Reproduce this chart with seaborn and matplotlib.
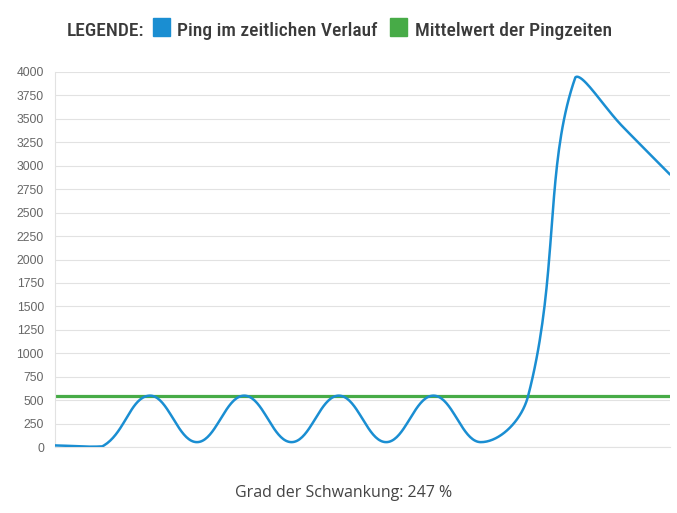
"""
Ping-Verlauf mit Mittelwert - Nachbau des Diagramms (seaborn / matplotlib)
"""

import numpy as np
import pandas as pd
import matplotlib
matplotlib.use("Agg")
import matplotlib.pyplot as plt
from matplotlib import font_manager
from matplotlib.patches import Rectangle
import seaborn as sns

# ----------------------------------------------------------------------------
# Daten
# ----------------------------------------------------------------------------
messpunkte = [0, 1, 2, 3, 4, 5, 6, 7, 8, 9, 10, 11, 12, 13]
ping_ms = [20, 10, 550, 55, 550, 55, 550, 55, 550, 55, 545, 3940, 3415, 2905]
mittelwert_ms = 548
y_ticks = [0, 250, 500, 750, 1000, 1250, 1500, 1750, 2000, 2250, 2500,
           2750, 3000, 3250, 3500, 3750, 4000]
legende_titel = "LEGENDE:"
legende_ping = "Ping im zeitlichen Verlauf"
legende_mittel = "Mittelwert der Pingzeiten"
fusszeile = "Grad der Schwankung: 247 %"

BLAU = "#1a8ed2"
GRUEN = "#47ab47"
GITTER = "#e2e2e2"

sns.set_style("white")
plt.rcParams["font.family"] = ["Liberation Sans", "DejaVu Sans"]

# schmale Schrift fuer die Legende suchen
vorhanden = {f.name for f in font_manager.fontManager.ttflist}
schmal = next((f for f in ["Roboto Condensed", "Liberation Sans Narrow",
                           "Open Sans Condensed"] if f in vorhanden), "DejaVu Sans")

W, H = 677, 513
fig = plt.figure(figsize=(W / 100, H / 100), dpi=100)
ax = fig.add_axes([55 / W, (H - 447.3) / H, (670 - 55) / W, (447.3 - 71.7) / H])

ax.set_xlim(messpunkte[0], messpunkte[-1])
ax.set_ylim(0, 4000)

# ----------------------------------------------------------------------------
# Bezier-Glaettung wie bei Chart.js (tension 0.4, in Pixelkoordinaten)
# ----------------------------------------------------------------------------
pix = ax.transData.transform(np.column_stack([messpunkte, ping_ms]))
box = ax.bbox
tension = 0.4
ctrl_prev, ctrl_next = [], []
for i in range(len(pix)):
    cur = pix[i]
    prv = pix[i - 1] if i > 0 else cur
    nxt = pix[i + 1] if i < len(pix) - 1 else cur
    d01 = np.hypot(*(cur - prv))
    d12 = np.hypot(*(nxt - cur))
    summe = d01 + d12
    s01 = d01 / summe if summe else 0
    s12 = d12 / summe if summe else 0
    p = cur - tension * s01 * (nxt - prv)
    n = cur + tension * s12 * (nxt - prv)
    # Kontrollpunkte auf den Zeichenbereich begrenzen
    for c in (p, n):
        c[0] = min(max(c[0], box.x0), box.x1)
        c[1] = min(max(c[1], box.y0), box.y1)
    ctrl_prev.append(p)
    ctrl_next.append(n)

t = np.linspace(0, 1, 40)[:, None]
kurve = []
for i in range(len(pix) - 1):
    p0, p1, p2, p3 = pix[i], ctrl_next[i], ctrl_prev[i + 1], pix[i + 1]
    seg = ((1 - t) ** 3) * p0 + 3 * ((1 - t) ** 2) * t * p1 \
        + 3 * (1 - t) * t ** 2 * p2 + t ** 3 * p3
    kurve.append(seg if i == 0 else seg[1:])
kurve = ax.transData.inverted().transform(np.vstack(kurve))
df_kurve = pd.DataFrame({"x": kurve[:, 0], "ping": kurve[:, 1]})

# ----------------------------------------------------------------------------
# Zeichnen
# ----------------------------------------------------------------------------
ax.axhline(mittelwert_ms, color=GRUEN, lw=2.3, zorder=2)
sns.lineplot(data=df_kurve, x="x", y="ping", sort=False, estimator=None,
             color=BLAU, lw=1.8, ax=ax, zorder=3)

ax.set_yticks(y_ticks)
ax.set_yticklabels([str(v) for v in y_ticks])
ax.set_xticks(messpunkte)
ax.set_xticklabels([""] * len(messpunkte))
ax.grid(axis="y", color=GITTER, lw=0.8)
ax.grid(axis="x", visible=False)
ax.set_axisbelow(True)
ax.tick_params(axis="y", length=5, width=0.8, color=GITTER, pad=3,
               labelsize=8.7, labelcolor="#666666")
ax.tick_params(axis="x", length=4, width=0.8, color=GITTER)
ax.set_xlabel("")
ax.set_ylabel("")
for s in ["top", "right"]:
    ax.spines[s].set_visible(False)
for s in ["left", "bottom"]:
    ax.spines[s].set_color(GITTER)
    ax.spines[s].set_linewidth(0.8)

# Legende oben
basis = 1 - 35.7 / H
legende_stil = dict(family=[schmal, "DejaVu Sans"], weight="medium",
                    fontsize=14, color="#3a3a3a", va="baseline", ha="left")
fig.text(67 / W, basis, legende_titel, **legende_stil)
fig.text(177 / W, basis, legende_ping, **legende_stil)
fig.text(415 / W, basis, legende_mittel, **legende_stil)
for x0, farbe in [(153, BLAU), (390, GRUEN)]:
    fig.patches.append(Rectangle((x0 / W, 1 - 35.7 / H), 17 / W, 18 / H,
                                 transform=fig.transFigure, color=farbe))

# Fusszeile
fig.text(343.5 / W, 1 - 496.7 / H, fusszeile, family=["Open Sans", "DejaVu Sans"],
         fontsize=11.5, color="#444444", ha="center", va="baseline")

fig.savefig("out.png", dpi=100, facecolor="white")
